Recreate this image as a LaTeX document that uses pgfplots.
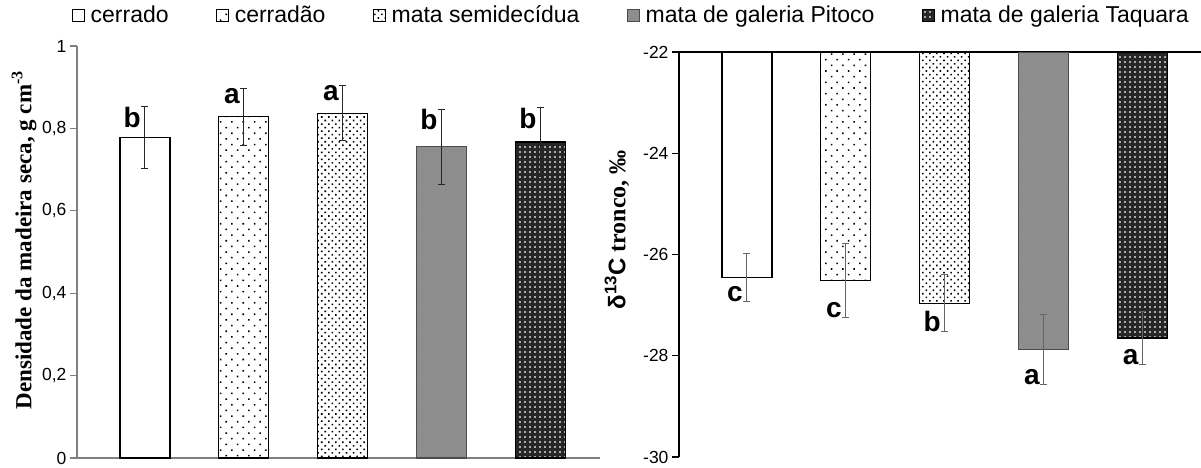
\documentclass[border=0pt]{standalone}
\usepackage{pgfplots}
\pgfplotsset{compat=1.18}
\usetikzlibrary{patterns.meta}
\usepackage{fontspec}
\setmainfont{Liberation Sans}
\newfontfamily\tnr{Liberation Serif}

% bar fills, roughly like the Excel patterns
\pgfplotsset{
  bar1/.style={draw=black, line width=1.1pt, fill=white},
  bar2/.style={draw=black, line width=1.1pt, fill=white,
    postaction={pattern={Dots[angle=45,distance=8pt,radius=1.1pt]}, pattern color=black}},
  bar3/.style={draw=black, line width=1.1pt, fill=white,
    postaction={pattern={Dots[angle=45,distance=5pt,radius=1.1pt]}, pattern color=black}},
  bar4/.style={draw=black!70, line width=1.1pt, fill=black!45,
    postaction={pattern={Dots[distance=3pt,radius=0.7pt]}, pattern color=white!60!black}},
  bar5/.style={draw=black, line width=1.1pt, fill=black!85,
    postaction={pattern={Dots[distance=5pt,radius=1.2pt]}, pattern color=white!85!black}},
  common/.style={
    scale only axis, ybar, bar width=50pt, bar shift=0pt,
    xmin=-0.687, xmax=4.6, xtick=\empty,
    tick align=outside, major tick length=7pt,
    yticklabel style={font=\fontsize{17.5}{20}\selectfont},
    legend image code/.code={\draw[##1] (0pt,-6pt) rectangle (12pt,6pt);},
    error bars/y dir=both, error bars/y explicit,
  },
}

\begin{document}
\begin{tikzpicture}
\useasboundingbox (0,0) rectangle (1201pt,-467pt);

\begin{axis}[common,
  at={(77pt,-458pt)}, anchor=south west,
  width=523pt, height=412pt,
  ymin=0, ymax=1,
  axis x line*=bottom, axis y line*=left,
  axis line style={black!50, line width=1.2pt},
  ytick style={black!50, line width=1.2pt},
  ytick={0,0.2,0.4,0.6,0.8,1},
  yticklabels={0,{0,2},{0,4},{0,6},{0,8},1},
  error bars/error bar style={line width=1pt, black!85},
  error bars/error mark options={rotate=90, mark size=3.5pt, line width=1pt, black!85},
  every axis y label/.style={at={(axis description cs:-0.101,0.529)}, rotate=90, anchor=center},
  ylabel={\tnr\bfseries\fontsize{23}{25}\selectfont Densidade da madeira seca, g cm\textsuperscript{-3}},
  legend columns=5,
  legend style={at={(axis description cs:-0.0165,1.075)}, anchor=west, draw=none, fill=none,
    font=\fontsize{23}{26}\selectfont,
    /tikz/every even column/.append style={column sep=45pt},
    /tikz/every odd column/.append style={column sep=4pt}},
]
\addplot[bar1] coordinates {(0,0.777) +- (0,0.075)};
\addplot[bar2] coordinates {(1,0.828) +- (0,0.070)};
\addplot[bar3] coordinates {(2,0.837) +- (0,0.067)};
\addplot[bar4] coordinates {(3,0.755) +- (0,0.091)};
\addplot[bar5] coordinates {(4,0.767) +- (0,0.083)};
\legend{cerrado, cerradão, mata semidecídua, mata de galeria Pitoco, mata de galeria Taquara}
\begin{scope}[every node/.style={font=\bfseries\fontsize{28}{29}\selectfont, anchor=north east, inner sep=0pt}]
\node at (axis cs:-0.04,0.852) {b};
\node at (axis cs:0.96,0.898) {a};
\node at (axis cs:1.96,0.904) {a};
\node at (axis cs:2.96,0.846) {b};
\node at (axis cs:3.96,0.850) {b};
\end{scope}
\end{axis}

\begin{axis}[common,
  at={(679pt,-52pt)}, anchor=north west,
  width=522pt, height=405pt,
  xmax=4.59,
  ymin=-30, ymax=-22,
  axis x line*=top, axis y line*=left,
  axis line style={black, line width=1.2pt},
  ytick style={black, line width=1.2pt},
  ytick={-30,-28,-26,-24,-22},
  yticklabels={-30,-28,-26,-24,-22},
  error bars/error bar style={line width=1pt, black!60},
  error bars/error mark options={rotate=90, mark size=3.5pt, line width=1pt, black!60},
  every axis y label/.style={at={(axis description cs:-0.119,0.561)}, rotate=90, anchor=center},
  ylabel={\bfseries\fontsize{24}{26}\selectfont δ\textsuperscript{13}C{\tnr\ tronco, ‰}},
]
\addplot[bar1] coordinates {(0,-26.45) +- (0,0.47)};
\addplot[bar2] coordinates {(1,-26.51) +- (0,0.73)};
\addplot[bar3] coordinates {(2,-26.96) +- (0,0.57)};
\addplot[bar4] coordinates {(3,-27.88) +- (0,0.69)};
\addplot[bar5] coordinates {(4,-27.65) +- (0,0.53)};
\begin{scope}[every node/.style={font=\bfseries\fontsize{28}{29}\selectfont, anchor=base east, inner sep=0pt}]
\node at (axis cs:-0.04,-26.92) {c};
\node at (axis cs:0.96,-27.24) {c};
\node at (axis cs:1.96,-27.53) {b};
\node at (axis cs:2.96,-28.57) {a};
\node at (axis cs:3.96,-28.18) {a};
\end{scope}
\end{axis}
\end{tikzpicture}
\end{document}
